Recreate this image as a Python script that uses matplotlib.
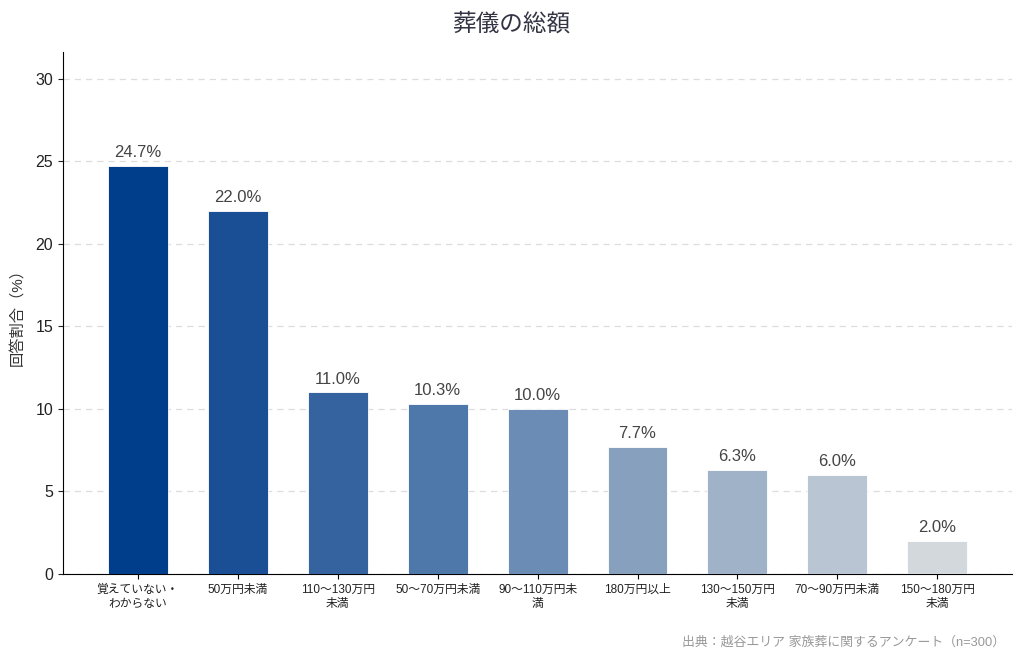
import matplotlib
matplotlib.use("Agg")
import matplotlib.pyplot as plt

plt.rcParams['font.family'] = ['Liberation Sans', 'Noto Sans CJK JP', 'DejaVu Sans']

# data
categories = ["覚えていない・\nわからない", "50万円未満", "110〜130万円\n未満", "50〜70万円未満",
              "90〜110万円未\n満", "180万円以上", "130〜150万円\n未満", "70〜90万円未満",
              "150〜180万円\n未満"]
values = [24.7, 22.0, 11.0, 10.3, 10.0, 7.7, 6.3, 6.0, 2.0]
bar_colors = ["#003d8a", "#1a4f95", "#3463a0", "#4f78aa", "#6b8cb4",
              "#86a0be", "#a0b2c8", "#b9c5d3", "#d3d8dc"]

fig = plt.figure(figsize=(10.24, 6.59), dpi=100)
ax = fig.add_axes([0.0615, 0.129, 0.927, 0.792])

x = range(len(categories))
ax.bar(x, values, width=0.6, color=bar_colors, edgecolor="white", linewidth=0.6, zorder=3)

for i, v in zip(x, values):
    ax.text(i, v + 0.35, f"{v:.1f}%", ha="center", va="bottom", fontsize=12, color="#444444")

ax.set_xlim(-0.75, 8.75)
ax.set_ylim(0, max(values) * 1.28)
ax.set_yticks([0, 5, 10, 15, 20, 25, 30])
ax.tick_params(axis="y", labelsize=11.5, colors="#222222")
ax.set_xticks(list(x))
ax.set_xticklabels(categories, fontsize=8.5, color="#222222", linespacing=1.2)
ax.set_ylabel("回答割合（%）", fontsize=11, color="#333333", labelpad=8)

ax.grid(axis="y", linestyle=(0, (5, 4)), color="#dddddd", linewidth=0.9, zorder=0)
ax.spines["top"].set_visible(False)
ax.spines["right"].set_visible(False)

fig.text(0.5, 0.963, "葬儀の総額", ha="center", va="center", fontsize=17, color="#333344")
fig.text(0.982, 0.025, "出典：越谷エリア 家族葬に関するアンケート（n=300）",
         ha="right", va="center", fontsize=9.3, color="#999999")

plt.savefig("out.png", dpi=100)
